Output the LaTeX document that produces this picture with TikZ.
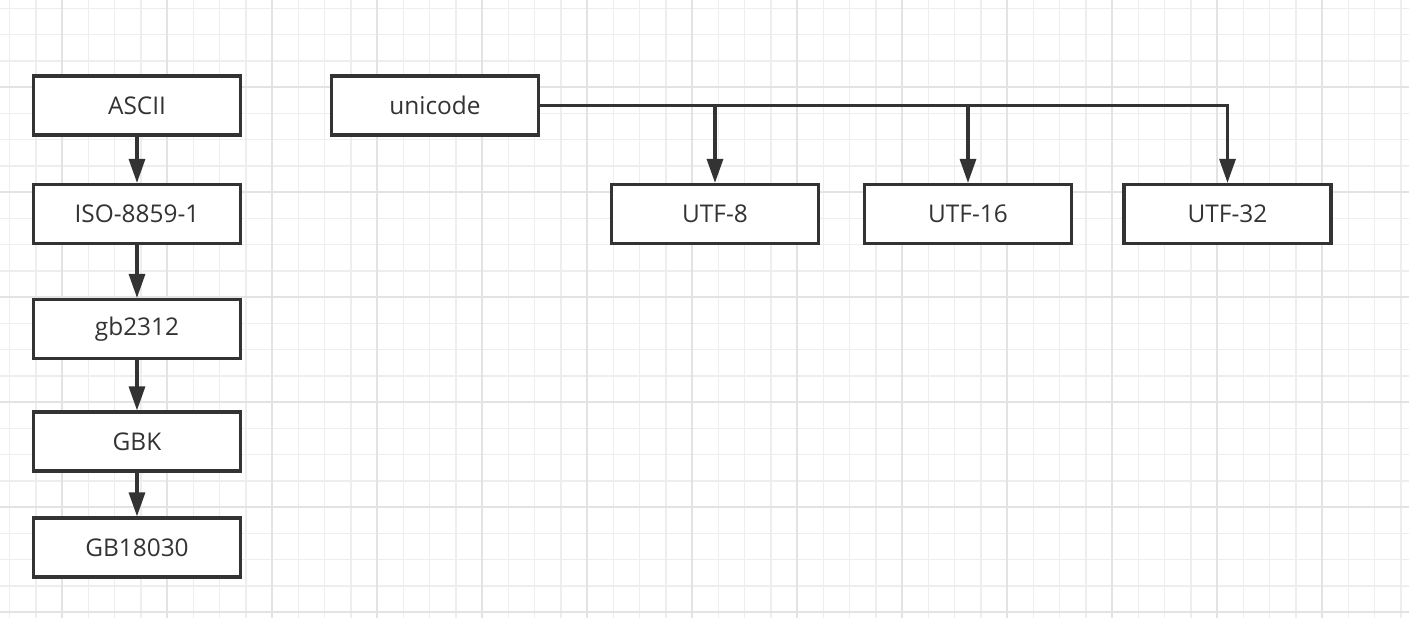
\documentclass[tikz,border=0pt]{standalone}
\usepackage{fontspec}
\setmainfont{Open Sans}
\usetikzlibrary{arrows.meta}
\definecolor{linegray}{HTML}{333333}
\definecolor{gridminor}{HTML}{EEEEEE}
\definecolor{gridmajor}{HTML}{E3E3E3}

\begin{document}
\begin{tikzpicture} [
    x=0.5pt, y=-0.5pt,
    box/.style={rectangle, draw=linegray, line width=1.6pt, fill=white, minimum width=103.5pt, minimum height=29.5pt, text=linegray, font=\fontsize{12.2pt}{14pt}\selectfont},
    arrow/.style={-{Triangle[length=12pt,width=8pt]}, line width=1.6pt, draw=linegray}
]
    \useasboundingbox (0,0) rectangle (1409,618);

    % 背景网格
    \fill[white] (0,0) rectangle (1409,618);
    \foreach \i in {0,...,53} {
        \draw[gridminor, line width=0.6pt] ({9.8+26.25*\i},0) -- ++(0,618);
    }
    \foreach \i in {0,...,23} {
        \draw[gridminor, line width=0.6pt] (0,{8.55+26.25*\i}) -- ++(1409,0);
    }
    \foreach \i in {0,...,12} {
        \draw[gridmajor, line width=0.9pt] ({62.3+105*\i},0) -- ++(0,618);
    }
    \foreach \i in {0,...,5} {
        \draw[gridmajor, line width=0.9pt] (0,{87.3+105*\i}) -- ++(1409,0);
    }

    % 左列编码
    \node[box] (ascii) at (137,105.5) {ASCII};
    \node[box] (iso) at (137,214) {ISO-8859-1};
    \node[box] (gb2312) at (137,329) {gb2312};
    \node[box] (gbk) at (137,441.5) {GBK};
    \node[box] (gb18030) at (137,547.5) {GB18030};

    % unicode 及其实现
    \node[box] (unicode) at (435,105.5) {unicode};
    \node[box] (utf8) at (715,214) {UTF-8};
    \node[box] (utf16) at (968,214) {UTF-16};
    \node[box] (utf32) at (1227.5,214) {UTF-32};

    % 连接
    \draw[arrow] (ascii) -- (iso);
    \draw[arrow] (iso) -- (gb2312);
    \draw[arrow] (gb2312) -- (gbk);
    \draw[arrow] (gbk) -- (gb18030);
    \draw[arrow] (unicode.east) -| (utf32);
    \draw[arrow] (utf8 |- unicode.east) -- (utf8);
    \draw[arrow] (utf16 |- unicode.east) -- (utf16);
\end{tikzpicture}
\end{document}
